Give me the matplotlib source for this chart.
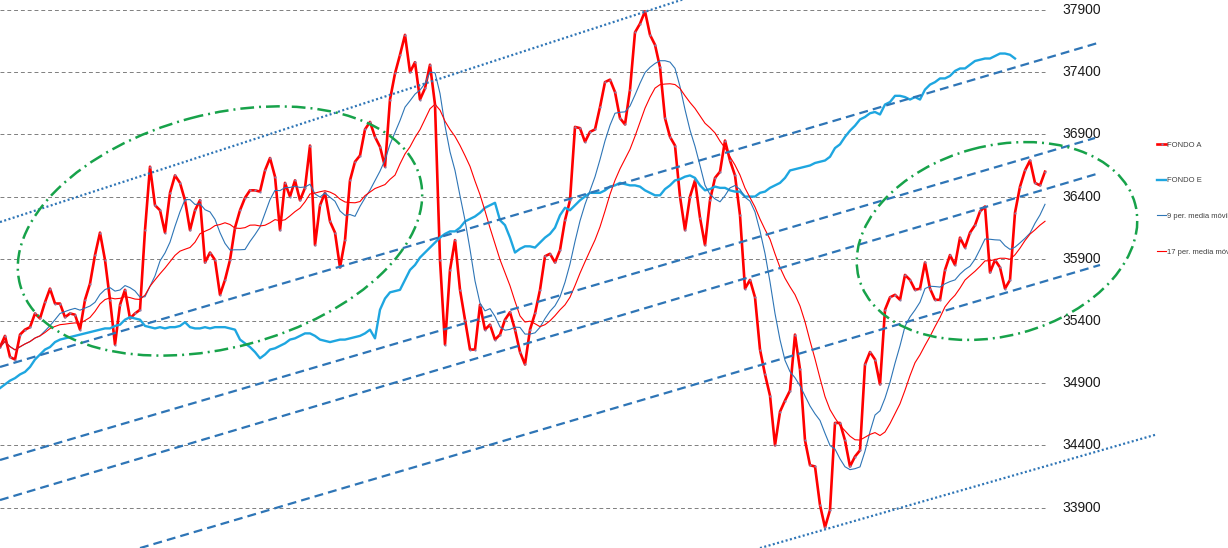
import numpy as np
import pandas as pd
import matplotlib
matplotlib.use("Agg")
from matplotlib import pyplot as plt
from matplotlib.patches import Ellipse
from matplotlib.transforms import Affine2D

# FONDO A, one value every step
fondo_a = [
    35190, 35280, 35110, 35090, 35290, 35330, 35350, 35460, 35420, 35550,
    35660, 35540, 35540, 35430, 35460, 35450, 35330, 35570, 35700, 35930,
    36110, 35890, 35570, 35210, 35530, 35650, 35420, 35460, 35490, 36130,
    36640, 36330, 36290, 36110, 36430, 36570, 36510, 36370, 36130, 36290,
    36370, 35870, 35950, 35890, 35610, 35730, 35890, 36150, 36290, 36390,
    36450, 36450, 36440, 36610, 36710, 36560, 36130, 36510, 36400, 36530,
    36370, 36470, 36810, 36010, 36330, 36430, 36200, 36110, 35830, 36050,
    36530, 36680, 36730, 36940, 37000, 36880, 36800, 36640, 37180, 37390,
    37540, 37700, 37400, 37480, 37180, 37270, 37460, 37140, 35890, 35210,
    35810, 36050, 35650, 35410, 35170, 35170, 35530, 35330, 35370, 35250,
    35290, 35410, 35470, 35330, 35150, 35050, 35330, 35460, 35650, 35920,
    35940, 35870, 35970, 36210, 36370, 36960, 36950, 36840, 36920, 36940,
    37120, 37320, 37340, 37240, 37030, 36980, 37260, 37720, 37790, 37890,
    37700, 37620, 37440, 37030, 36880, 36810, 36400, 36130, 36400, 36530,
    36230, 36010, 36370, 36550, 36600, 36850, 36690, 36570, 36250, 35660,
    35730, 35590, 35170, 34970, 34800, 34400, 34670, 34760, 34840, 35290,
    35010, 34440, 34240, 34230, 33920, 33740, 33880, 34580, 34580, 34440,
    34230, 34310, 34360, 35050, 35150, 35090, 34890, 35490, 35590, 35610,
    35570, 35770, 35730, 35650, 35660, 35870, 35660, 35570, 35570, 35810,
    35930, 35850, 36070, 35990, 36110, 36170, 36280, 36320, 35790, 35890,
    35830, 35660, 35730, 36270, 36480, 36610, 36690, 36510, 36490, 36600,
]

# FONDO E (shorter, ends earlier)
fondo_e = [
    34860, 34890, 34920, 34940, 34970, 34990, 35030, 35090, 35130, 35170,
    35190, 35230, 35250, 35260, 35270, 35280, 35290, 35300, 35310, 35320,
    35330, 35340, 35340, 35360, 35370, 35410, 35430, 35420, 35410, 35360,
    35350, 35340, 35350, 35340, 35350, 35350, 35360, 35390, 35350, 35340,
    35340, 35350, 35340, 35350, 35350, 35350, 35340, 35330, 35250, 35220,
    35190, 35150, 35100, 35130, 35170, 35180, 35200, 35220, 35250, 35260,
    35280, 35300, 35300, 35280, 35250, 35240, 35230, 35240, 35250, 35250,
    35260, 35270, 35280, 35300, 35330, 35260, 35490, 35580, 35630, 35640,
    35650, 35730, 35810, 35850, 35910, 35950, 35990, 36030, 36070, 36100,
    36120, 36120, 36150, 36200, 36220, 36240, 36270, 36310, 36330, 36350,
    36210, 36170, 36070, 35950, 35980, 36000, 36000, 35990, 36030, 36070,
    36100, 36150, 36250, 36310, 36290, 36330, 36370, 36400, 36430, 36430,
    36430, 36450, 36480, 36490, 36510, 36500, 36490, 36490, 36480, 36450,
    36430, 36410, 36410, 36460, 36490, 36530, 36540, 36560, 36570, 36550,
    36490, 36450, 36460, 36480, 36470, 36470, 36450, 36440, 36440, 36400,
    36400, 36400, 36430, 36440, 36470, 36490, 36510, 36550, 36610, 36620,
    36630, 36640, 36650, 36670, 36680, 36690, 36720, 36790, 36820, 36880,
    36930, 36970, 37020, 37040, 37070, 37080, 37060, 37140, 37160, 37210,
    37210, 37200, 37180, 37200, 37180, 37260, 37300, 37320, 37350, 37350,
    37370, 37410, 37430, 37430, 37460, 37490, 37500, 37510, 37510, 37530,
    37550, 37550, 37540, 37510,
]

y_ticks = [33900, 34400, 34900, 35400, 35900, 36400, 36900, 37400, 37900]
series_names = ["FONDO A", "FONDO E", "9 per. media móvil", "17 per. media móvil"]

# hand drawn trend lines (step, value)
dashed_lines = [
    [(0, 35030), (220, 37640)],
    [(0, 34282), (219, 36871)],
    [(0, 33960), (220, 36590)],
    [(28, 33574), (220, 35850)],
]
dotted_lines = [
    [(0, 36195), (150, 38161)],
    [(152, 33574), (231, 34484)],
]

W, H = 1228, 548
step_px = 5.0
y_top = 37980.4
per_px = 8.04

fig = plt.figure(figsize=(W / 100, H / 100), dpi=100)
ax = fig.add_axes([0, 0, 1, 1])
ax.set_xlim(0, W / step_px)
ax.set_ylim(y_top - H * per_px, y_top)
ax.axis("off")

a = pd.Series(fondo_a, dtype=float)
xa = np.arange(len(a))
xe = np.arange(len(fondo_e))
ma9 = a.rolling(9, min_periods=1).mean()
ma17 = a.rolling(17, min_periods=1).mean()

grid_end = 1045 / W
for t in y_ticks:
    ax.axhline(t, 0, grid_end, color="#7f7f7f", lw=0.7, ls=(0, (4, 3)), zorder=1)
    ax.text(1062 / step_px, t, str(t), fontsize=10, family="Liberation Sans",
            color="#1a1a1a", va="center", ha="left")

l1, = ax.plot(xa, a, color="#ff0000", lw=1.9, zorder=3,
              marker="o", ms=1.6, mfc="#9080a8", mew=0)
l2, = ax.plot(xe, fondo_e, color="#1ea6e0", lw=1.7, zorder=3)
l3, = ax.plot(xa, ma9, color="#2e75b6", lw=0.8, zorder=4)
l4, = ax.plot(xa, ma17, color="#ff0000", lw=0.8, zorder=4)

for (x0, y0), (x1, y1) in dashed_lines:
    ax.plot([x0, x1], [y0, y1], color="#2e75b6", lw=1.6, ls=(0, (4, 2.3)), zorder=5)
for (x0, y0), (x1, y1) in dotted_lines:
    ax.plot([x0, x1], [y0, y1], color="#2e75b6", lw=1.6, ls=(0, (0.9, 1.1)), zorder=5)

# ellipses drawn in picture pixels
px = Affine2D().scale(1 / step_px, -per_px).translate(0, y_top) + ax.transData
for c, w, h in [((220, 231), 414, 233), ((997, 241), 286, 190)]:
    ax.add_patch(Ellipse(c, w, h, angle=-15, fill=False, ec="#17a24a", lw=1.8,
                         ls=(0, (5.5, 2, 0.8, 2)), transform=px, zorder=6))

ax.legend([l1, l2, l3, l4], series_names, loc="upper left",
          bbox_to_anchor=(1157 / W, 1 - 141.5 / H), frameon=False,
          prop={"family": "Liberation Sans", "size": 5.5}, labelcolor="#404040",
          handlelength=1.2, handletextpad=0.1, labelspacing=3.7,
          borderpad=0, borderaxespad=0)

fig.savefig("out.png", dpi=100)
